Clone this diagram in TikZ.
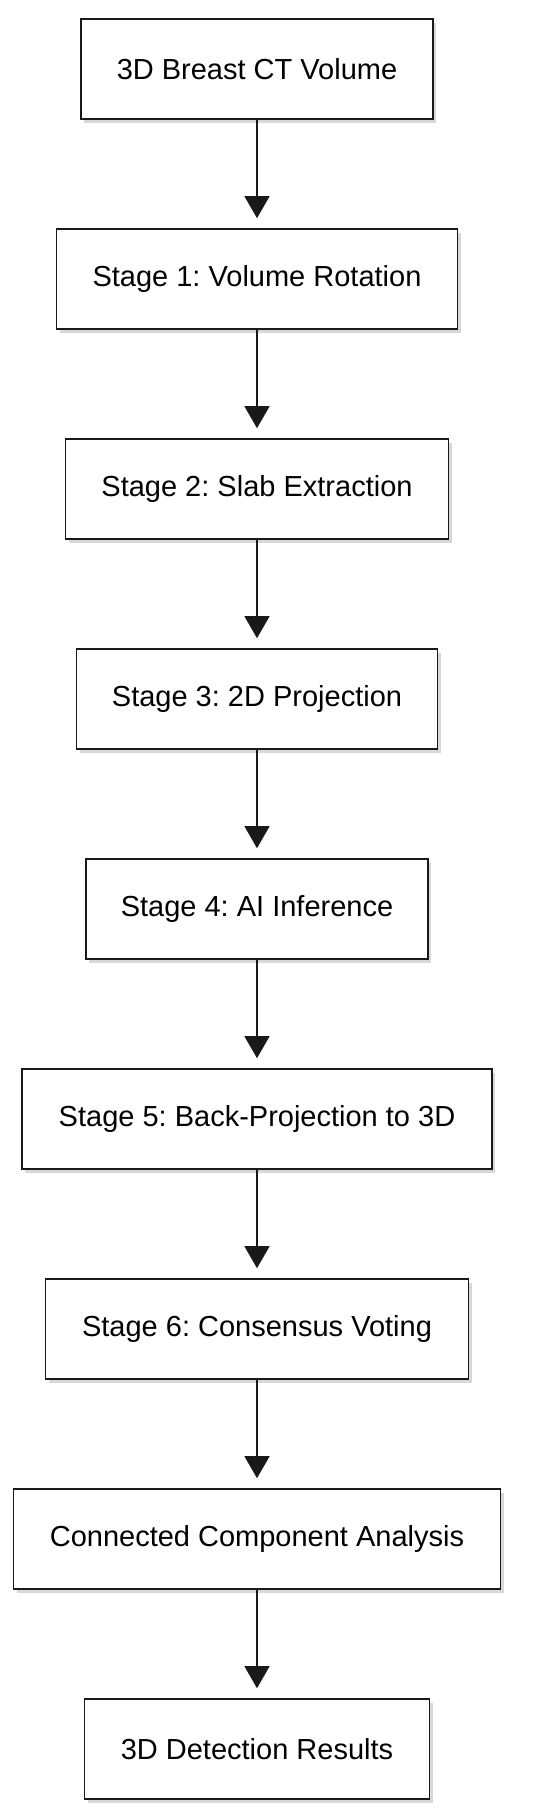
\documentclass[tikz,border=0pt]{standalone}
\usepackage{fontspec}
\setmainfont{Liberation Sans}
\usetikzlibrary{arrows.meta,shadows}
\frenchspacing
\begin{document}
\begin{tikzpicture}[x=1pt,y=-1pt,
  stagebox/.style={draw=black!90, line width=1.6pt, fill=white, rectangle, inner sep=0pt,
    minimum height=100pt, font=\fontsize{29}{34}\selectfont,
    drop shadow={shadow xshift=3pt, shadow yshift=-4pt, opacity=0.25, fill=black!60}},
  flow/.style={draw=black!90, line width=1.3pt, -{Triangle[width=25pt,length=22pt]}, shorten >=10pt}]
\useasboundingbox[fill=white] (0,0) rectangle (550,1820);
\node[stagebox, minimum width=352pt] (n0) at (257,69) {3D Breast CT Volume};
\node[stagebox, minimum width=401pt] (n1) at (257,279) {Stage 1: Volume Rotation};
\node[stagebox, minimum width=383pt] (n2) at (257,489) {Stage 2: Slab Extraction};
\node[stagebox, minimum width=361pt] (n3) at (257,699) {Stage 3: 2D Projection};
\node[stagebox, minimum width=342pt] (n4) at (257,909) {Stage 4: AI Inference};
\node[stagebox, minimum width=470pt] (n5) at (257,1119) {Stage 5: Back-Projection to 3D};
\node[stagebox, minimum width=423pt] (n6) at (257,1329) {Stage 6: Consensus Voting};
\node[stagebox, minimum width=487pt] (n7) at (257,1539) {Connected Component Analysis};
\node[stagebox, minimum width=345pt] (n8) at (257,1749) {3D Detection Results};
\foreach \a/\b in {n0/n1,n1/n2,n2/n3,n3/n4,n4/n5,n5/n6,n6/n7,n7/n8}
  \draw[flow] (\a.south) -- (\b.north);
\end{tikzpicture}
\end{document}
